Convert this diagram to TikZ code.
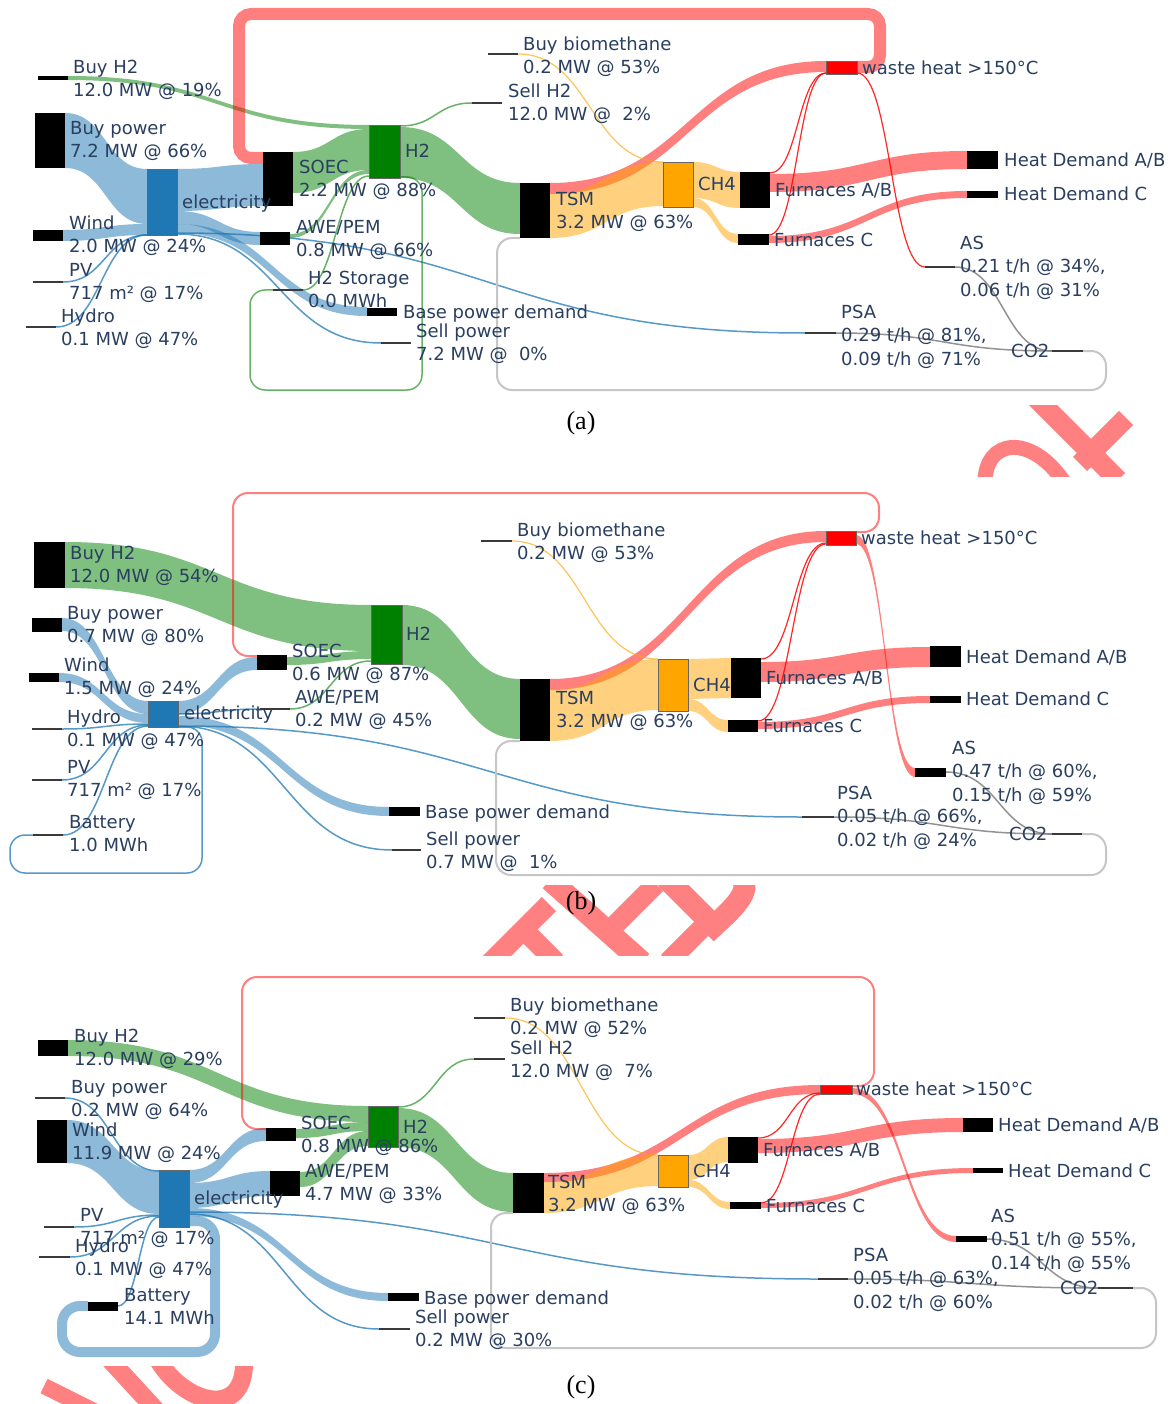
\documentclass[tikz,border=0pt]{standalone}
\usepackage{fontspec}
\setmainfont{DejaVu Sans}
\newfontfamily\capfont{Liberation Serif}
\definecolor{cblue}{HTML}{1F77B4}
\definecolor{cgreen}{HTML}{008000}
\definecolor{corange}{HTML}{FFA500}
\definecolor{cred}{HTML}{FF0000}
\definecolor{cgray}{HTML}{808080}
\definecolor{txt}{HTML}{2A3F5F}
\definecolor{wm}{HTML}{FF8080}
\definecolor{lnode}{HTML}{3A3A3A}
\newcommand\sband[6]{\fill[#6,fill opacity=.5] (#1,#2) .. controls ({(#1+#3)/2},#2) and ({(#1+#3)/2},#4) .. (#3,#4) -- (#3,{#4+#5}) .. controls ({(#1+#3)/2},{#4+#5}) and ({(#1+#3)/2},{#2+#5}) .. (#1,{#2+#5}) -- cycle;}
\newcommand\thinlink[5]{\draw[#5] (#1,#2) .. controls ({(#1+#3)/2},#2) and ({(#1+#3)/2},#4) .. (#3,#4);}
\newcommand\nd[6]{\node[#6, anchor=north west, minimum width={#4-#2}, minimum height={#5-#3}] (#1) at (#2,#3) {};}
\newcommand\nl[4]{\node[lnd, anchor=west, minimum width={#3-#2}, minimum height=2] (#1) at (#2,#4) {};}
\newcommand\lbA[4]{\node[lbl] (#1) at (#2,{#3+6.4}) {#4};}
\newcommand\lbB[5]{\node[lbl] (#1) at (#2,{#3+6.4}) {#4};\node[lbl] (#1b) at (#2,{#3+29.9}) {#5};}
\newcommand\lbC[6]{\node[lbl] (#1) at (#2,{#3+6.4}) {#4};\node[lbl] (#1b) at (#2,{#3+29.9}) {#5};\node[lbl] (#1c) at (#2,{#3+53.4}) {#6};}
\tikzset{
  blk/.style={fill=black, inner sep=0pt, outer sep=0pt},
  elecbox/.style={fill=cblue, draw=black!60, line width=.6, inner sep=0pt, outer sep=0pt},
  h2box/.style={fill=cgreen, draw=black!60, line width=.6, inner sep=0pt, outer sep=0pt},
  ch4box/.style={fill=corange, draw=black!60, line width=.6, inner sep=0pt, outer sep=0pt},
  whbox/.style={fill=cred, draw=black!60, line width=.6, inner sep=0pt, outer sep=0pt},
  lnd/.style={fill=lnode, inner sep=0pt, outer sep=0pt},
  lbl/.style={anchor=base west, inner sep=0pt, text=txt, font=\fontsize{18}{21}\selectfont},
  capf/.style={inner sep=0pt, font=\capfont\fontsize{26}{30}\selectfont},
  tblue/.style={draw=cblue, line width=1.5, draw opacity=.75},
  tred/.style={draw=cred, line width=1.2, draw opacity=.85},
  tgreen/.style={draw=cgreen, line width=1.5, draw opacity=.6},
  torange/.style={draw=corange, line width=1.2, draw opacity=.65},
  tgray/.style={draw=cgray, line width=1.5, draw opacity=.85},
  tloop/.style={draw=cgray!45, line width=2},
  rloop/.style={draw=cred, draw opacity=.5, line width=2},
  wmk/.style={draw=wm},
}
\begin{document}
\begin{tikzpicture}[x=1pt,y=-1pt]
\useasboundingbox (0,0) rectangle (1175,1404);
\fill[white] (0,0) rectangle (1175,1404);

% ---------------- watermark fragments ----------------
\begin{scope}
\clip (960,405) rectangle (1135,476);
\draw[wmk, line width=15] (985,482) .. controls (985,440) and (1030,432) .. (1064,482);
\draw[wmk, line width=20] (1036,398) -- (1118,480);
\draw[wmk, line width=20] (1126,418) -- (1080,464);
\end{scope}
\begin{scope}
\clip (470,885) rectangle (760,955);
\draw[wmk, line width=20] (486,967) -- (549,904);
\draw[wmk, line width=20] (520,926) -- (556,962);
\draw[wmk, line width=22] (550,880) -- (642,962);
\draw[wmk, line width=20] (656,884) -- (612,928);
\draw[wmk, line width=22] (666,878) -- (714,926) .. controls (738,904) and (754,888) .. (738,874);
\draw[wmk, line width=20] (702,928) -- (668,962);
\end{scope}
\begin{scope}
\clip (30,1366) rectangle (280,1404);
\draw[wmk, line width=16] (44,1386) -- (100,1414);
\draw[wmk, line width=18] (110,1360) -- (156,1410);
\draw[wmk, line width=18] (158,1360) .. controls (185,1405) and (246,1420) .. (244,1360);
\end{scope}

% ================= PANEL (a) =================
\sband{68}{76}{369}{125}{4}{cgreen}
\sband{65}{113}{147}{169}{55}{cblue}
\sband{63}{230}{147}{224}{11}{cblue}
\sband{177}{169}{263}{164}{42}{cblue}
\sband{177}{211}{260}{232}{13}{cblue}
\sband{177}{224}{367}{307}{9}{cblue}
\sband{293}{152}{369}{129}{41}{cgreen}
\sband{290}{234}{369}{170}{4}{cgreen}
\sband{400}{127}{520}{183}{51}{cgreen}
\sband{550}{183}{826}{61}{11}{cred}
\sband{550}{194}{663}{162}{44}{corange}
\sband{693}{162}{740}{172}{36}{corange}
\sband{693}{198}{738}{234}{9}{corange}
\sband{770}{174}{967}{151}{18}{cred}
\sband{769}{236}{967}{191}{7}{cred}
\draw[cred, draw opacity=.5, line width=12, rounded corners=12] (857,67) -- (880,67) -- (880,14) -- (239,14) -- (239,158) -- (263,158);
\thinlink{63}{282}{147}{235}{tblue}
\thinlink{56}{327}{147}{235}{tblue}
\thinlink{177}{233}{805}{333}{tblue}
\thinlink{177}{234}{381}{343}{tblue}
\thinlink{303}{290}{369}{176}{tgreen}
\thinlink{400}{126}{472}{103}{tgreen}
\draw[tgreen, rounded corners=15] (400,177) -- (422,177) -- (422,390) -- (250,390) -- (250,290) -- (273,290);
\thinlink{518}{54}{663}{162}{torange}
\thinlink{770}{173}{826}{73}{tred}
\thinlink{769}{235}{826}{73}{tred}
\thinlink{857}{73}{925}{267}{tred}
\thinlink{955}{267}{1052}{351}{tgray}
\thinlink{836}{333}{1052}{351}{tgray}
\draw[tloop, rounded corners=15] (1083,351) -- (1106,351) -- (1106,390) -- (497,390) -- (497,238) -- (520,238);

\nd{aBuyH2}{38}{76}{68}{80}{blk}
\nd{aBuyPow}{35}{113}{65}{168}{blk}
\nd{aWind}{33}{230}{63}{241}{blk}
\nl{aPV}{33}{63}{282}
\nl{aHydro}{26}{56}{327}
\nd{aElec}{147}{169}{177}{235}{elecbox}
\nd{aSOEC}{263}{152}{293}{206}{blk}
\nd{aAWE}{260}{232}{290}{245}{blk}
\nd{aH2}{369}{125}{400}{178}{h2box}
\nl{aStor}{273}{303}{290}
\nd{aBase}{367}{308}{397}{316}{blk}
\nl{aSellP}{381}{411}{343}
\nl{aSellH2}{472}{502}{103}
\nl{aBio}{488}{518}{54}
\nd{aTSM}{520}{183}{550}{238}{blk}
\nd{aCH4}{663}{162}{693}{207}{ch4box}
\nd{aFAB}{740}{172}{770}{208}{blk}
\nd{aFC}{738}{234}{769}{245}{blk}
\nd{aWH}{826}{61}{857}{74}{whbox}
\nd{aHDAB}{967}{151}{998}{169}{blk}
\nd{aHDC}{967}{191}{998}{198}{blk}
\nl{aAS}{925}{955}{267}
\nl{aPSA}{805}{836}{333}
\nl{aCO2}{1052}{1083}{351}

\lbB{laBuyH2}{73}{67}{Buy H2}{12.0 MW @ 19\%}
\lbB{laBuyPow}{70}{128}{Buy power}{7.2 MW @ 66\%}
\lbB{laWind}{69}{223}{Wind}{2.0 MW @ 24\%}
\lbB{laPV}{69}{270}{PV}{717 m² @ 17\%}
\lbB{laHydro}{61}{316}{Hydro}{0.1 MW @ 47\%}
\lbA{laElec}{182}{202}{electricity}
\lbB{laSOEC}{299}{167}{SOEC}{2.2 MW @ 88\%}
\lbA{laH2}{405}{151}{H2}
\lbB{laAWE}{296}{227}{AWE/PEM}{0.8 MW @ 66\%}
\lbB{laStor}{308}{278}{H2 Storage}{0.0 MWh}
\lbA{laBase}{403}{312}{Base power demand}
\lbB{laSellP}{416}{331}{Sell power}{7.2 MW @\ \ 0\%}
\lbB{laBio}{523}{44}{Buy biomethane}{0.2 MW @ 53\%}
\lbB{laSellH2}{508}{91}{Sell H2}{12.0 MW @\ \ 2\%}
\lbB{laTSM}{556}{199}{TSM}{3.2 MW @ 63\%}
\lbA{laCH4}{698}{184}{CH4}
\lbA{laFAB}{775}{190}{Furnaces A/B}
\lbA{laFC}{774}{240}{Furnaces C}
\lbA{laWH}{862}{68}{waste heat >150°C}
\lbA{laHDAB}{1004}{160}{Heat Demand A/B}
\lbA{laHDC}{1004}{194}{Heat Demand C}
\lbC{laAS}{960}{243}{AS}{0.21 t/h @ 34\%,}{0.06 t/h @ 31\%}
\lbC{laPSA}{841}{312}{PSA}{0.29 t/h @ 81\%,}{0.09 t/h @ 71\%}
\lbA{laCO2}{1011}{351}{CO2}
\node[capf] (capa) at (581,423) {(a)};

% ================= PANEL (b) =================
\sband{65}{542}{371}{605}{46}{cgreen}
\sband{287}{657}{371}{651}{8}{cgreen}
\sband{402}{605}{520}{679}{60}{cgreen}
\sband{62}{618}{148}{701}{13}{cblue}
\sband{59}{673}{148}{714}{9}{cblue}
\sband{178}{701}{257}{657}{13}{cblue}
\sband{178}{716}{389}{807}{9}{cblue}
\sband{550}{679}{826}{531}{11}{cred}
\sband{550}{690}{658}{659}{51}{corange}
\sband{688}{659}{731}{658}{40}{corange}
\sband{688}{699}{728}{720}{12}{corange}
\sband{761}{662}{930}{647}{20}{cred}
\sband{758}{722}{930}{696}{7}{cred}
\sband{856}{535}{915}{768}{9}{cred}
\draw[rloop, rounded corners=15] (856,532) -- (879,532) -- (879,493) -- (233,493) -- (233,656) -- (257,656);
\thinlink{290}{709}{371}{661}{tgreen}
\thinlink{62}{729}{148}{724}{tblue}
\thinlink{62}{780}{148}{725}{tblue}
\thinlink{63}{835}{148}{726}{tblue}
\thinlink{178}{714}{260}{709}{tblue}
\thinlink{178}{726}{802}{817}{tblue}
\thinlink{178}{726}{392}{850}{tblue}
\draw[tblue, rounded corners=15] (178,727) -- (202,727) -- (202,873) -- (10,873) -- (10,835) -- (33,835);
\thinlink{512}{541}{658}{659}{torange}
\thinlink{761}{659}{826}{543}{tred}
\thinlink{758}{721}{826}{544}{tred}
\thinlink{946}{772}{1052}{834}{tgray}
\thinlink{834}{817}{1052}{834}{tgray}
\draw[tloop, rounded corners=15] (1082,834) -- (1106,834) -- (1106,875) -- (496,875) -- (496,741) -- (520,741);

\nd{bBuyH2}{34}{542}{65}{588}{blk}
\nd{bBuyPow}{32}{618}{62}{632}{blk}
\nd{bWind}{29}{673}{59}{682}{blk}
\nl{bHydro}{32}{62}{729}
\nl{bPV}{32}{62}{780}
\nl{bBatt}{33}{63}{835}
\nd{bElec}{148}{701}{178}{727}{elecbox}
\nd{bSOEC}{257}{655}{287}{670}{blk}
\nl{bAWE}{260}{290}{709}
\nd{bH2}{371}{605}{402}{664}{h2box}
\nd{bBase}{389}{807}{420}{816}{blk}
\nl{bSellP}{392}{421}{850}
\nl{bBio}{481}{512}{541}
\nd{bTSM}{520}{679}{550}{741}{blk}
\nd{bCH4}{658}{659}{688}{711}{ch4box}
\nd{bFAB}{731}{658}{761}{698}{blk}
\nd{bFC}{728}{720}{758}{732}{blk}
\nd{bWH}{826}{531}{856}{545}{whbox}
\nd{bHDAB}{930}{646}{961}{667}{blk}
\nd{bHDC}{930}{696}{961}{703}{blk}
\nd{bAS}{915}{768}{946}{777}{blk}
\nl{bPSA}{802}{834}{817}
\nl{bCO2}{1052}{1082}{834}

\lbB{lbBuyH2}{70}{553}{Buy H2}{12.0 MW @ 54\%}
\lbB{lbBuyPow}{67}{613}{Buy power}{0.7 MW @ 80\%}
\lbB{lbWind}{64}{665}{Wind}{1.5 MW @ 24\%}
\lbB{lbHydro}{67}{717}{Hydro}{0.1 MW @ 47\%}
\lbB{lbPV}{67}{767}{PV}{717 m² @ 17\%}
\lbB{lbBatt}{69}{822}{Battery}{1.0 MWh}
\lbA{lbElec}{184}{713}{electricity}
\lbB{lbSOEC}{292}{651}{SOEC}{0.6 MW @ 87\%}
\lbA{lbH2}{406}{634}{H2}
\lbB{lbAWE}{295}{697}{AWE/PEM}{0.2 MW @ 45\%}
\lbA{lbBase}{425}{812}{Base power demand}
\lbB{lbSellP}{426}{839}{Sell power}{0.7 MW @\ \ 1\%}
\lbB{lbBio}{517}{530}{Buy biomethane}{0.2 MW @ 53\%}
\lbB{lbTSM}{556}{698}{TSM}{3.2 MW @ 63\%}
\lbA{lbCH4}{693}{685}{CH4}
\lbA{lbFAB}{766}{678}{Furnaces A/B}
\lbA{lbFC}{763}{726}{Furnaces C}
\lbA{lbWH}{861}{538}{waste heat >150°C}
\lbA{lbHDAB}{966}{657}{Heat Demand A/B}
\lbA{lbHDC}{966}{699}{Heat Demand C}
\lbC{lbAS}{952}{748}{AS}{0.47 t/h @ 60\%,}{0.15 t/h @ 59\%}
\lbC{lbPSA}{837}{793}{PSA}{0.05 t/h @ 66\%,}{0.02 t/h @ 24\%}
\lbA{lbCO2}{1009}{834}{CO2}
\node[capf] (capb) at (581,903) {(b)};

% ================= PANEL (c) =================
\sband{68}{1040}{368}{1106}{16}{cgreen}
\sband{296}{1129}{368}{1122}{9}{cgreen}
\sband{300}{1172}{368}{1131}{15}{cgreen}
\sband{398}{1108}{513}{1173}{39}{cgreen}
\sband{67}{1120}{159}{1171}{43}{cblue}
\sband{189}{1170}{266}{1128}{13}{cblue}
\sband{189}{1183}{270}{1171}{25}{cblue}
\sband{189}{1208}{388}{1293}{8}{cblue}
\draw[cblue, draw opacity=.5, line width=10, rounded corners=18] (189,1221) -- (215,1221) -- (215,1352) -- (62,1352) -- (62,1306) -- (88,1306);
\sband{544}{1173}{820}{1085}{9}{cred}
\sband{544}{1182}{658}{1155}{31}{corange}
\sband{688}{1155}{728}{1137}{25}{corange}
\sband{688}{1180}{730}{1202}{7}{corange}
\sband{758}{1139}{963}{1118}{14}{cred}
\sband{761}{1203}{973}{1168}{5}{cred}
\sband{852}{1088}{956}{1236}{6}{cred}
\draw[rloop, rounded corners=15] (852,1086) -- (874,1086) -- (874,977) -- (242,977) -- (242,1129) -- (266,1129);
\thinlink{398}{1107}{474}{1059}{tgreen}
\thinlink{65}{1098}{159}{1171}{tblue}
\thinlink{74}{1227}{159}{1215}{tblue}
\thinlink{70}{1257}{159}{1216}{tblue}
\thinlink{118}{1306}{159}{1217}{tblue}
\thinlink{189}{1212}{818}{1279}{tblue}
\thinlink{189}{1214}{379}{1329}{tblue}
\thinlink{505}{1018}{658}{1155}{torange}
\thinlink{758}{1138}{820}{1093}{tred}
\thinlink{761}{1203}{820}{1094}{tred}
\thinlink{987}{1239}{1098}{1288}{tgray}
\thinlink{848}{1279}{1098}{1288}{tgray}
\draw[tloop, rounded corners=15] (1133,1288) -- (1156,1288) -- (1156,1348) -- (491,1348) -- (491,1213) -- (513,1213);

\nd{cBuyH2}{38}{1040}{68}{1056}{blk}
\nl{cBuyPow}{35}{65}{1098}
\nd{cWind}{37}{1120}{67}{1163}{blk}
\nl{cPV}{44}{74}{1227}
\nl{cHydro}{39}{70}{1257}
\nd{cBatt}{88}{1302}{118}{1311}{blk}
\nd{cElec}{159}{1170}{189}{1227}{elecbox}
\nd{cSOEC}{266}{1128}{296}{1141}{blk}
\nd{cAWE}{270}{1171}{300}{1196}{blk}
\nd{cH2}{368}{1106}{398}{1147}{h2box}
\nd{cBase}{388}{1293}{419}{1301}{blk}
\nl{cSellP}{379}{410}{1329}
\nl{cBio}{474}{505}{1018}
\nl{cSellH2}{474}{505}{1059}
\nd{cTSM}{513}{1173}{544}{1213}{blk}
\nd{cCH4}{658}{1155}{688}{1187}{ch4box}
\nd{cFAB}{728}{1137}{758}{1163}{blk}
\nd{cFC}{730}{1202}{761}{1209}{blk}
\nd{cWH}{820}{1085}{852}{1094}{whbox}
\nd{cHDAB}{963}{1118}{993}{1132}{blk}
\nd{cHDC}{973}{1168}{1003}{1173}{blk}
\nd{cAS}{956}{1236}{987}{1242}{blk}
\nl{cPSA}{818}{848}{1279}
\nl{cCO2}{1098}{1133}{1288}

\lbB{lcBuyH2}{74}{1036}{Buy H2}{12.0 MW @ 29\%}
\lbB{lcBuyPow}{71}{1087}{Buy power}{0.2 MW @ 64\%}
\lbB{lcWind}{72}{1130}{Wind}{11.9 MW @ 24\%}
\lbB{lcPV}{80}{1215}{PV}{717 m² @ 17\%}
\lbB{lcHydro}{75}{1246}{Hydro}{0.1 MW @ 47\%}
\lbB{lcBatt}{124}{1295}{Battery}{14.1 MWh}
\lbA{lcElec}{194}{1198}{electricity}
\lbB{lcSOEC}{301}{1123}{SOEC}{0.8 MW @ 86\%}
\lbA{lcH2}{403}{1127}{H2}
\lbB{lcAWE}{305}{1171}{AWE/PEM}{4.7 MW @ 33\%}
\lbA{lcBase}{424}{1298}{Base power demand}
\lbB{lcSellP}{415}{1317}{Sell power}{0.2 MW @ 30\%}
\lbB{lcBio}{510}{1005}{Buy biomethane}{0.2 MW @ 52\%}
\lbB{lcSellH2}{510}{1048}{Sell H2}{12.0 MW @\ \ 7\%}
\lbB{lcTSM}{548}{1182}{TSM}{3.2 MW @ 63\%}
\lbA{lcCH4}{693}{1171}{CH4}
\lbA{lcFAB}{763}{1150}{Furnaces A/B}
\lbA{lcFC}{766}{1206}{Furnaces C}
\lbA{lcWH}{856}{1089}{waste heat >150°C}
\lbA{lcHDAB}{998}{1125}{Heat Demand A/B}
\lbA{lcHDC}{1008}{1171}{Heat Demand C}
\lbC{lcAS}{991}{1216}{AS}{0.51 t/h @ 55\%,}{0.14 t/h @ 55\%}
\lbC{lcPSA}{853}{1255}{PSA}{0.05 t/h @ 63\%,}{0.02 t/h @ 60\%}
\lbA{lcCO2}{1060}{1288}{CO2}
\node[capf] (capc) at (581,1387) {(c)};
\end{tikzpicture}
\end{document}
